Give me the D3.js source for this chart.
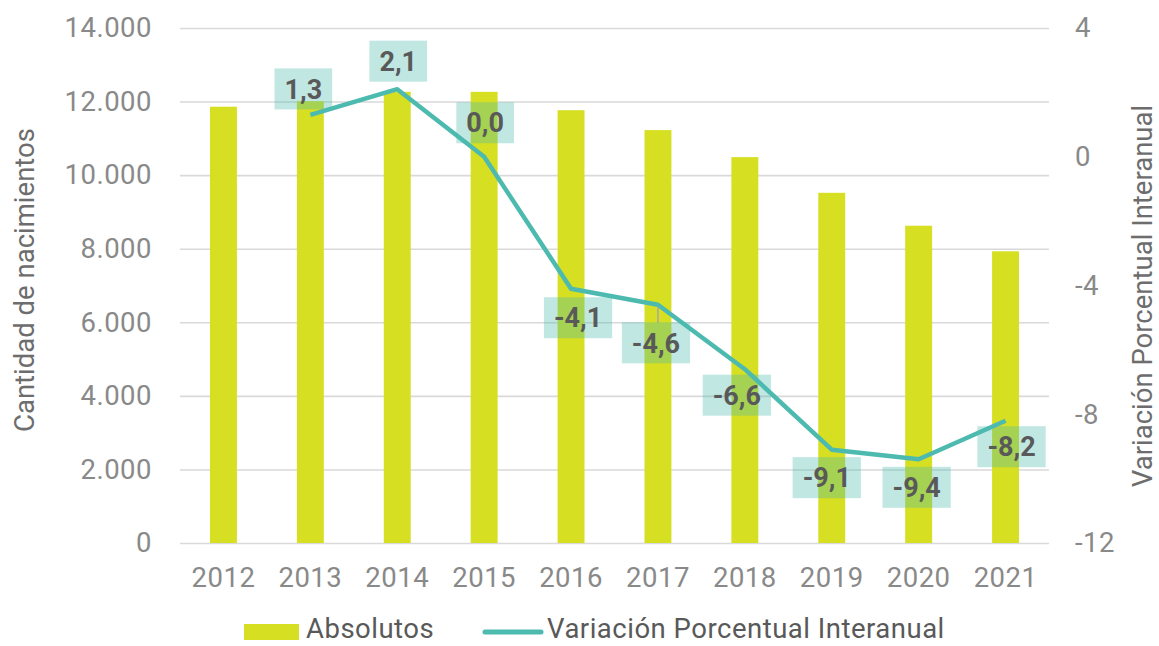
<!DOCTYPE html>
<html>
<head>
<meta charset="utf-8">
<script src="https://cdn.jsdelivr.net/npm/d3@7"></script>
<style>
  body { margin: 0; background: #fff; }
  text { font-family: Roboto, "Open Sans", sans-serif; }
</style>
</head>
<body>
<svg width="1159" height="646"></svg>
<script>
var years = ["2012", "2013", "2014", "2015", "2016", "2017", "2018", "2019", "2020", "2021"];
var absolutos = [11860, 12010, 12265, 12265, 11765, 11225, 10490, 9520, 8625, 7930];
var variacion = [null, 1.3, 2.1, 0.0, -4.1, -4.6, -6.6, -9.1, -9.4, -8.2];
var leftTicks = [0, 2000, 4000, 6000, 8000, 10000, 12000, 14000];
var rightTicks = [4, 0, -4, -8, -12];

// where each data label box sits relative to its point
var labelOffsets = [null, [-7, -26], [1, -28], [1, -34], [7, 29], [-2, 38], [-8, 26], [-5, 28], [-2, 28], [6, 26]];

var es = d3.formatLocale({decimal: ",", thousands: ".", grouping: [3], currency: ["", " €"], minus: "-"});

var svg = d3.select("svg"),
    margin = {top: 28, right: 110, bottom: 103, left: 180},
    width = +svg.attr("width"),
    height = +svg.attr("height");

var barColor = "#d6df22",
    lineColor = "#4dbab0",
    tickColor = "#898989",
    textColor = "#595959",
    fs = "27.5px",
    ls = "0.5px";

var x = d3.scaleBand()
    .domain(years)
    .range([margin.left, width - margin.right])
    .padding(0);

var barW = x.bandwidth() * 0.31;

var y = d3.scaleLinear()
    .domain([0, 14000])
    .range([height - margin.bottom, margin.top]);

var y2 = d3.scaleLinear()
    .domain([-12, 4])
    .range([height - margin.bottom, margin.top]);

// left axis + gridlines
var gl = svg.append("g")
    .attr("transform", "translate(" + margin.left + ",0)")
    .call(d3.axisLeft(y)
      .tickValues(leftTicks)
      .tickFormat(es.format(",d"))
      .tickSize(-(width - margin.left - margin.right))
      .tickPadding(28));
gl.select(".domain").remove();
gl.selectAll(".tick line").attr("stroke", "#d9d9d9").attr("stroke-width", 1.6);
gl.selectAll(".tick text").attr("fill", tickColor).style("font-size", fs).style("letter-spacing", ls);

// right axis
var gr = svg.append("g")
    .attr("transform", "translate(" + (width - margin.right) + ",0)")
    .call(d3.axisRight(y2)
      .tickValues(rightTicks)
      .tickFormat(es.format("d"))
      .tickSize(0)
      .tickPadding(26));
gr.select(".domain").remove();
gr.selectAll(".tick text").attr("fill", tickColor).style("font-size", fs).style("letter-spacing", ls);

// bottom axis
var gb = svg.append("g")
    .attr("transform", "translate(0," + (height - margin.bottom) + ")")
    .call(d3.axisBottom(x).tickSize(0).tickPadding(24));
gb.select(".domain").remove();
gb.selectAll(".tick text").attr("fill", tickColor).style("font-size", fs).style("letter-spacing", ls);

// bars
svg.append("g")
  .selectAll("rect")
  .data(absolutos)
  .enter().append("rect")
    .attr("fill", barColor)
    .attr("x", function(d, i) { return x(years[i]) + x.bandwidth() / 2 - barW / 2; })
    .attr("width", barW)
    .attr("y", function(d) { return y(d); })
    .attr("height", function(d) { return y(0) - y(d); });

// line
var pts = variacion.map(function(v, i) { return {year: years[i], v: v, off: labelOffsets[i]}; });

var line = d3.line()
    .defined(function(d) { return d.v !== null; })
    .x(function(d) { return x(d.year) + x.bandwidth() / 2; })
    .y(function(d) { return y2(d.v); });

svg.append("path")
    .datum(pts)
    .attr("fill", "none")
    .attr("stroke", lineColor)
    .attr("stroke-width", 4.5)
    .attr("stroke-linejoin", "round")
    .attr("d", line);

// data labels
var lab = svg.append("g")
  .selectAll("g")
  .data(pts.filter(function(d) { return d.v !== null; }))
  .enter().append("g")
    .attr("transform", function(d) {
      return "translate(" + (x(d.year) + x.bandwidth() / 2 + d.off[0]) + "," + (y2(d.v) + d.off[1]) + ")";
    });

// leader line for 2017
lab.filter(function(d) { return d.year === "2017"; })
  .append("line")
    .attr("x1", function(d) { return -d.off[0]; })
    .attr("x2", function(d) { return -d.off[0]; })
    .attr("y1", function(d) { return -d.off[1] + 2; })
    .attr("y2", -20)
    .attr("stroke", "#a6a6a6")
    .attr("stroke-width", 1.5);

lab.append("rect")
    .attr("fill", lineColor)
    .attr("fill-opacity", 0.35);

lab.append("text")
    .attr("text-anchor", "middle")
    .attr("dy", "0.36em")
    .attr("fill", textColor)
    .style("font-size", "27px")
    .style("font-weight", "bold")
    .text(function(d) { return es.format(".1f")(d.v); });

lab.each(function() {
  var g = d3.select(this);
  var w = g.select("text").node().getComputedTextLength() + 20;
  g.select("rect").attr("x", -w / 2).attr("y", -20.5).attr("width", w).attr("height", 41);
});

// axis titles
svg.append("text")
    .attr("transform", "translate(34,280) rotate(-90)")
    .attr("text-anchor", "middle")
    .attr("fill", "#6d6d6d")
    .style("font-size", fs)
    .text("Cantidad de nacimientos");

svg.append("text")
    .attr("transform", "translate(1152,296) rotate(-90)")
    .attr("text-anchor", "middle")
    .attr("fill", "#6d6d6d")
    .style("font-size", fs)
    .text("Variación Porcentual Interanual");

// legend
var leg = svg.append("g");
leg.append("rect")
    .attr("x", 244).attr("y", 624).attr("width", 55).attr("height", 16)
    .attr("fill", barColor);
leg.append("text")
    .attr("x", 306).attr("y", 638)
    .attr("fill", textColor)
    .style("font-size", fs)
    .style("letter-spacing", ls)
    .text("Absolutos");
leg.append("line")
    .attr("x1", 485).attr("x2", 541).attr("y1", 632).attr("y2", 632)
    .attr("stroke", lineColor).attr("stroke-width", 5).attr("stroke-linecap", "round");
leg.append("text")
    .attr("x", 547).attr("y", 638)
    .attr("fill", textColor)
    .style("font-size", fs)
    .style("letter-spacing", ls)
    .text("Variación Porcentual Interanual");
</script>
</body>
</html>
